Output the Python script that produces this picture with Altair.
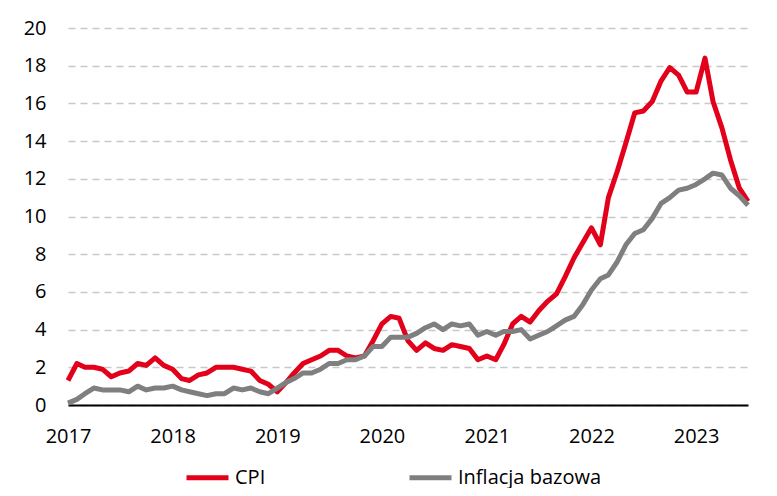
import altair as alt
import pandas as pd

start = "2017-01-01"
months = pd.date_range(start, periods=79, freq="MS")

cpi = [
    1.3, 2.2, 2.0, 2.0, 1.9, 1.5, 1.7, 1.8, 2.2, 2.1, 2.5, 2.1,
    1.9, 1.4, 1.3, 1.6, 1.7, 2.0, 2.0, 2.0, 1.9, 1.8, 1.3, 1.1,
    0.7, 1.2, 1.7, 2.2, 2.4, 2.6, 2.9, 2.9, 2.6, 2.5, 2.6, 3.4,
    4.3, 4.7, 4.6, 3.4, 2.9, 3.3, 3.0, 2.9, 3.2, 3.1, 3.0, 2.4,
    2.6, 2.4, 3.2, 4.3, 4.7, 4.4, 5.0, 5.5, 5.9, 6.8, 7.8, 8.6,
    9.4, 8.5, 11.0, 12.4, 13.9, 15.5, 15.6, 16.1, 17.2, 17.9, 17.5, 16.6,
    16.6, 18.4, 16.1, 14.7, 13.0, 11.5, 10.8,
]
core = [
    0.1, 0.3, 0.6, 0.9, 0.8, 0.8, 0.8, 0.7, 1.0, 0.8, 0.9, 0.9,
    1.0, 0.8, 0.7, 0.6, 0.5, 0.6, 0.6, 0.9, 0.8, 0.9, 0.7, 0.6,
    0.9, 1.2, 1.4, 1.7, 1.7, 1.9, 2.2, 2.2, 2.4, 2.4, 2.6, 3.1,
    3.1, 3.6, 3.6, 3.6, 3.8, 4.1, 4.3, 4.0, 4.3, 4.2, 4.3, 3.7,
    3.9, 3.7, 3.9, 3.9, 4.0, 3.5, 3.7, 3.9, 4.2, 4.5, 4.7, 5.3,
    6.1, 6.7, 6.9, 7.6, 8.5, 9.1, 9.3, 9.9, 10.7, 11.0, 11.4, 11.5,
    11.7, 12.0, 12.3, 12.2, 11.5, 11.1, 10.6,
]
series_names = ["CPI", "Inflacja bazowa"]
series_colors = ["#e2001a", "#7f7f7f"]
y_ticks = list(range(0, 21, 2))

df = pd.concat([
    pd.DataFrame({"date": months, "value": cpi, "series": series_names[0]}),
    pd.DataFrame({"date": months, "value": core, "series": series_names[1]}),
])

FONT = "Open Sans"

chart = alt.Chart(df).mark_line(strokeWidth=5, strokeJoin="round").encode(
    x=alt.X("date:T",
            scale=alt.Scale(domain=[months[0].isoformat(), months[-1].isoformat()]),
            axis=alt.Axis(title=None, format="%Y", tickCount={"interval": "year", "step": 1},
                          grid=False, ticks=False, domain=True, domainColor="#000000",
                          domainWidth=2, labelFontSize=20, labelColor="#000000",
                          labelFont=FONT, labelPadding=21, labelFlush=False)),
    y=alt.Y("value:Q",
            scale=alt.Scale(domain=[0, 20], nice=False),
            axis=alt.Axis(title=None, values=y_ticks, grid=True, gridColor="#c8c8c8",
                          gridDash=[7, 5], gridWidth=1.5, ticks=False, domain=False,
                          labelFontSize=20, labelColor="#000000", labelFont=FONT,
                          labelPadding=22)),
    color=alt.Color("series:N",
                    scale=alt.Scale(domain=series_names, range=series_colors),
                    legend=alt.Legend(title=None, orient="none", legendX=116, legendY=426,
                                      direction="horizontal", columns=2, columnPadding=133,
                                      symbolType="stroke", symbolSize=1764,
                                      symbolStrokeWidth=5, labelFontSize=20,
                                      labelFont=FONT, labelColor="#000000",
                                      labelOffset=4)),
).properties(
    width=680, height=377,
    autosize=alt.AutoSizeParams(type="none"),
    padding={"left": 60, "top": 20, "right": 21, "bottom": 83},
).configure_view(stroke=None)

chart.save("out.html", embed_options={"renderer": "svg", "actions": False})
